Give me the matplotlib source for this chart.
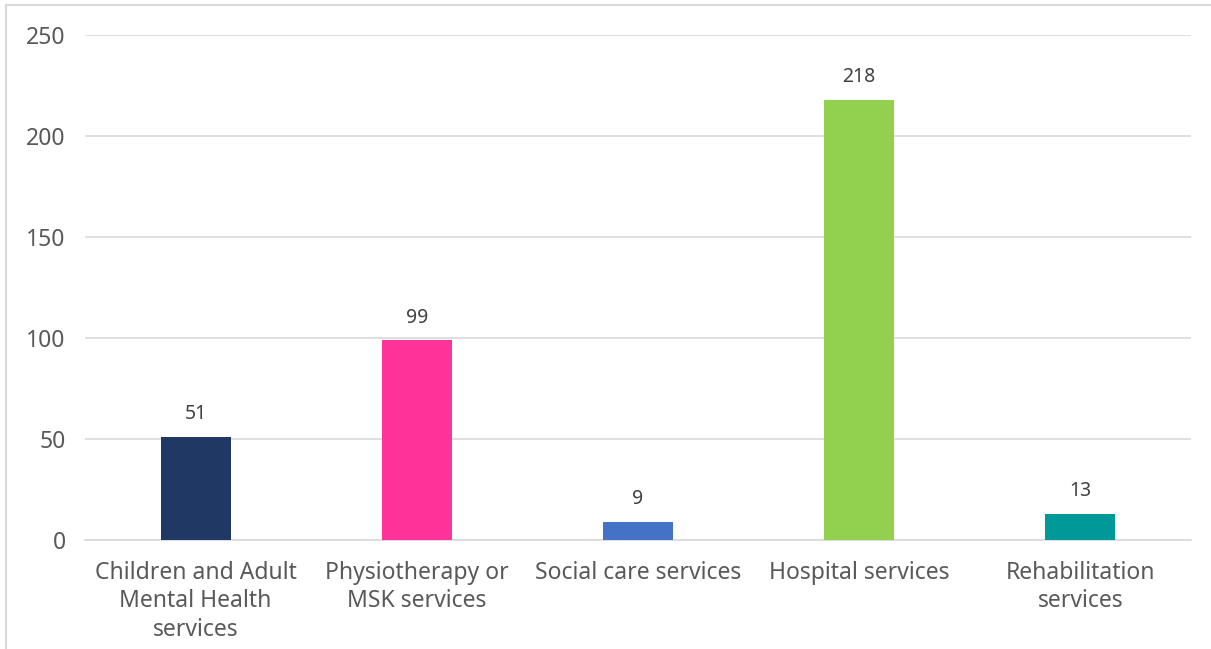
import matplotlib
matplotlib.use("Agg")
import matplotlib.pyplot as plt
from matplotlib.patches import Rectangle

categories = ["Children and Adult\nMental Health\nservices", "Physiotherapy or\nMSK services",
              "Social care services", "Hospital services", "Rehabilitation\nservices"]
values = [51, 99, 9, 218, 13]
colors = ["#203864", "#FF3399", "#4472C4", "#92D050", "#009999"]
yticks = [0, 50, 100, 150, 200, 250]

plt.rcParams['font.family'] = ['Noto Sans', 'DejaVu Sans']

fig = plt.figure(figsize=(12.11, 6.49), dpi=100)
ax = fig.add_axes([85/1211, 109/649, (1191-85)/1211, (540-35)/649])

x = list(range(len(categories)))
bars = ax.bar(x, values, width=0.316, color=colors, zorder=3)
for xi, v in zip(x, values):
    ax.annotate(str(v), (xi, v), xytext=(0, 9), textcoords="offset points",
                ha="center", va="bottom", fontsize=14, color="#404040")

ax.set_xlim(-0.5, len(categories) - 0.5)
ax.set_ylim(0, 250)
ax.set_yticks(yticks)
ax.set_yticklabels([str(t) for t in yticks])
ax.set_xticks(x)
ax.set_xticklabels(categories, linespacing=1.25)
ax.tick_params(axis='both', length=0, labelsize=16.5, colors="#595959")
ax.tick_params(axis='y', pad=14)
ax.tick_params(axis='x', pad=15)
ax.grid(axis='y', color="#D9D9D9", linewidth=1.2, zorder=0)
for s in ["top", "right", "left"]:
    ax.spines[s].set_visible(False)
ax.spines["bottom"].set_color("#D9D9D9")
ax.spines["bottom"].set_linewidth(1.2)

# outer chart frame
fig.add_artist(Rectangle((6/1211, -0.01), 1.1, (649-5)/649 + 0.01, transform=fig.transFigure,
                         fill=False, edgecolor="#D9D9D9", linewidth=1.5))

fig.savefig("out.png", dpi=100)
